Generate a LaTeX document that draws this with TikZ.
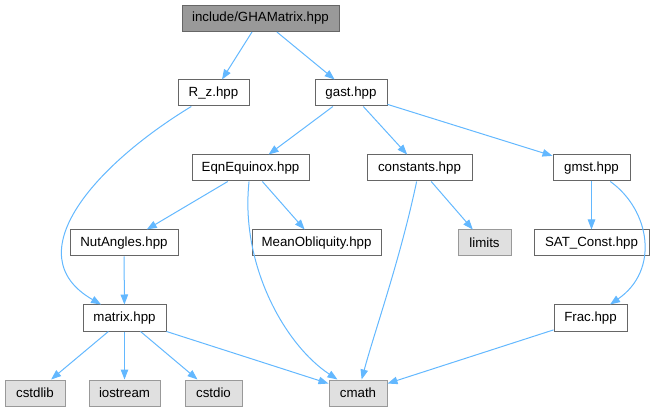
\documentclass[tikz,border=0pt]{standalone}
\usepackage{fontspec}
\setmainfont{Liberation Sans}
\usetikzlibrary{arrows.meta}
\definecolor{edgeblue}{HTML}{63B8FF}
\definecolor{rootgray}{HTML}{999999}
\definecolor{sysgray}{HTML}{E0E0E0}
\definecolor{framegray}{HTML}{666666}
\begin{document}
\begin{tikzpicture}[x=1pt,y=-1pt,
    file/.style={draw=framegray,fill=white,line width=1pt,minimum height=26pt,inner sep=0pt,
        font=\fontsize{13.3}{16}\selectfont},
    root/.style={file,fill=rootgray},
    sys/.style={file,draw=rootgray,fill=sysgray},
    dep/.style={draw=edgeblue,line width=1pt,-{Triangle[length=10pt,width=7.5pt]}}]
    \useasboundingbox (0,0) rectangle (666,411);
    % files
    \node[root,minimum width=157pt] (gha) at (260.5,18.5) {include/GHAMatrix.hpp};
    \node[file,minimum width=71pt] (rz) at (213.5,93) {R\_z.hpp};
    \node[file,minimum width=72pt] (gast) at (351,93) {gast.hpp};
    \node[file,minimum width=117pt] (eqn) at (250.5,168) {EqnEquinox.hpp};
    \node[file,minimum width=105pt] (const) at (419.5,168) {constants.hpp};
    \node[file,minimum width=77pt] (gmst) at (591.5,168) {gmst.hpp};
    \node[file,minimum width=108pt] (nut) at (124,243) {NutAngles.hpp};
    \node[file,minimum width=129pt] (meanobl) at (316.5,243) {MeanObliquity.hpp};
    \node[sys,minimum width=53pt] (limits) at (484.5,243) {limits};
    \node[file,minimum width=115pt] (satconst) at (591.5,243) {SAT\_Const.hpp};
    \node[file,minimum width=83pt] (matrix) at (124.5,318) {matrix.hpp};
    \node[file,minimum width=73pt] (frac) at (590.5,318) {Frac.hpp};
    \node[sys,minimum width=60pt] (cstdlib) at (35,393) {cstdlib};
    \node[sys,minimum width=71pt] (iostream) at (124.5,393) {iostream};
    \node[sys,minimum width=57pt] (cstdio) at (213.5,393) {cstdio};
    \node[sys,minimum width=58pt] (cmath) at (358,393) {cmath};

    % includes
    \draw[dep] (gha) -- (rz);
    \draw[dep] (gha) -- (gast);
    \draw[dep] (rz) .. controls (95,165) and (15,255) .. (matrix);
    \draw[dep] (gast) -- (eqn);
    \draw[dep] (gast) -- (const);
    \draw[dep] (gast) -- (gmst);
    \draw[dep] (eqn) -- (nut);
    \draw[dep] (eqn) -- (meanobl);
    \draw[dep] (eqn) .. controls (240,265) and (285,345) .. (cmath);
    \draw[dep] (const) -- (limits);
    \draw[dep] (const) .. controls (400,260) and (375,330) .. (cmath);
    \draw[dep] (gmst) -- (satconst);
    \draw[dep] (gmst) .. controls (650,210) and (660,270) .. (frac);
    \draw[dep] (nut) -- (matrix);
    \draw[dep] (matrix) -- (cstdlib);
    \draw[dep] (matrix) -- (iostream);
    \draw[dep] (matrix) -- (cstdio);
    \draw[dep] (matrix) -- (cmath);
    \draw[dep] (frac) -- (cmath);
\end{tikzpicture}
\end{document}
